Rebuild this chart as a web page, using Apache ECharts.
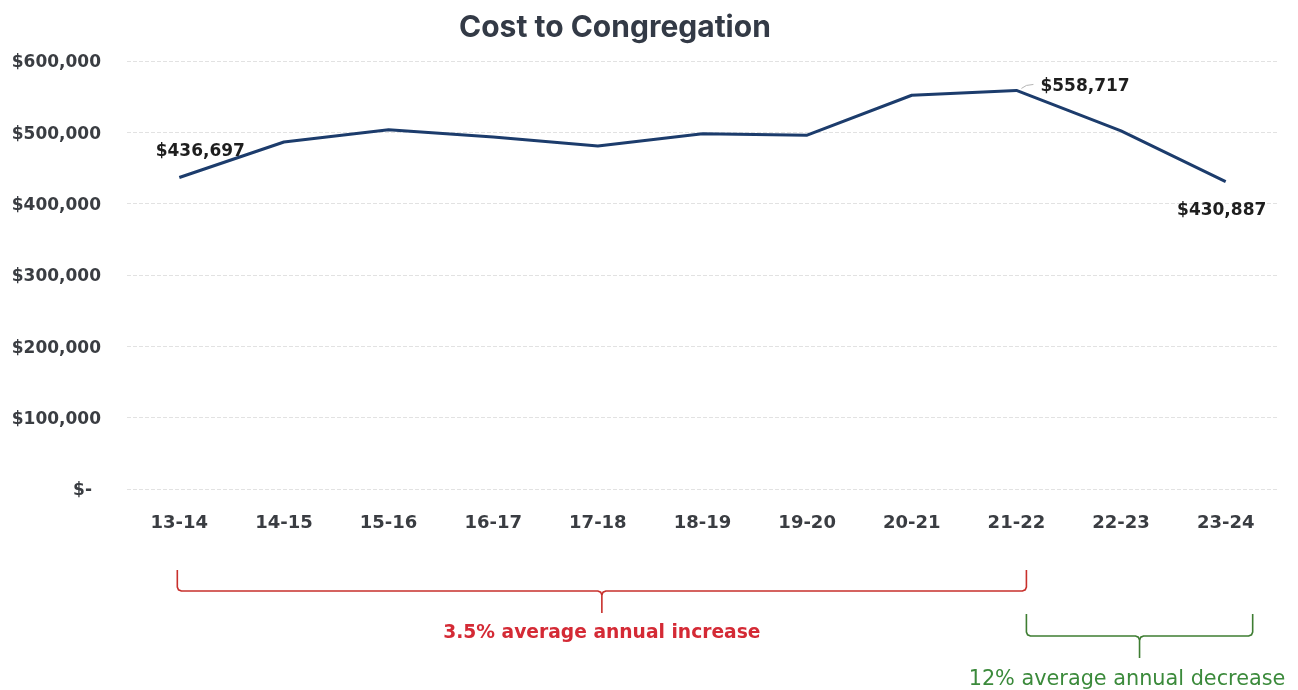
<!DOCTYPE html>
<html>
<head>
<meta charset="utf-8">
<script src="https://cdn.jsdelivr.net/npm/echarts@6/dist/echarts.min.js"></script>
<style>html,body{margin:0;padding:0;background:#fff;}#c{width:1298px;height:690px;}</style>
</head>
<body>
<div id="c"></div>
<script>
const categories = ['13-14','14-15','15-16','16-17','17-18','18-19','19-20','20-21','21-22','22-23','23-24'];
const costValues = [436697, 486500, 503500, 493500, 481000, 498000, 496000, 552000, 558717, 502000, 430887];
const labeledIndices = [0, 8, 10];
const yMin = 0, yMax = 600000, yStep = 100000;
const titleText = 'Cost to Congregation';
const increaseText = '3.5% average annual increase';
const decreaseText = '12% average annual decrease';

function money(v){ return '$' + Math.round(v).toString().replace(/\B(?=(\d{3})+(?!\d))/g, ','); }

const labelStyles = {
  0: { position: 'top', distance: 5, offset: [21, -12] },
  8: { position: 'right', distance: 24, offset: [0, -4] },
  10: { position: 'bottom', distance: 5, offset: [-4, 15] }
};

const LINE_COLOR = '#1c3c6c';
const seriesData = costValues.map((v, i) => {
  const item = { value: v };
  if (labeledIndices.includes(i)) {
    item.label = Object.assign({ show: true }, labelStyles[i]);
  }
  return item;
});

const AX = 'DejaVu Sans';
const chart = echarts.init(document.getElementById('c'));
chart.setOption({
  animation: false,
  backgroundColor: '#ffffff',
  title: {
    text: titleText, left: 454, top: 8,
    textStyle: { fontFamily: 'Inter', fontWeight: 'bold', fontSize: 30, color: '#333a46' }
  },
  grid: { left: 127, right: 20, top: 61, bottom: 201, containLabel: false },
  xAxis: {
    type: 'category', data: categories, boundaryGap: true,
    axisLine: { show: false }, axisTick: { show: false },
    axisLabel: { margin: 25, fontFamily: AX, fontWeight: 'bold', fontSize: 18, color: '#3a3d42' }
  },
  yAxis: {
    type: 'value', min: yMin, max: yMax, interval: yStep,
    axisLine: { show: false }, axisTick: { show: false },
    splitLine: { lineStyle: { color: '#e2e2e2', width: 1, type: [4, 2] } },
    axisLabel: {
      margin: 26, fontFamily: AX, fontWeight: 'bold', fontSize: 17, color: '#3a3d42', padding: [4, 0, 0, 0],
      formatter: v => v === 0 ? '{z|$-}' : money(v),
      rich: { z: { padding: [0, 9, 0, 0], fontFamily: AX, fontWeight: 'bold', fontSize: 17, color: '#3a3d42' } }
    }
  },
  series: [{
    type: 'line', data: seriesData, symbol: 'circle', symbolSize: 0.01, showSymbol: true, smooth: false,
    itemStyle: { color: LINE_COLOR },
    lineStyle: { color: LINE_COLOR, width: 3 },
    label: {
      show: false, formatter: p => money(p.value),
      fontFamily: AX, fontWeight: 'bold', fontSize: 17, color: '#1e1e1e'
    }
  }]
});

function bracePoints(x1, x2, top, h, bottom){
  const cx = (x1 + x2) / 2;
  return {
    left: [[x1, top], [x1, h - 4], [x1 + 1.2, h - 1.2], [x1 + 4, h], [cx - 4, h], [cx - 1.2, h + 1.2], [cx, h + 4], [cx, bottom]],
    right: [[cx, h + 4], [cx + 1.2, h + 1.2], [cx + 4, h], [x2 - 4, h], [x2 - 1.2, h - 1.2], [x2, h - 4], [x2, top]]
  };
}
function px(i){ return chart.convertToPixel({ xAxisIndex: 0 }, categories[i]); }

const rx1 = px(0) - 2, rx2 = px(8) + 10;
const gx1 = rx2, gx2 = px(10) + 27;
const rb = bracePoints(rx1, rx2, 570, 591, 613);
const gb = bracePoints(gx1, gx2, 614, 636, 658);
const peak = chart.convertToPixel({ gridIndex: 0 }, [categories[8], costValues[8]]);
const redStroke = { stroke: '#c8302c', lineWidth: 1.6, fill: null };
const greenStroke = { stroke: '#3e7d32', lineWidth: 1.6, fill: null };

chart.setOption({
  graphic: [
    { type: 'polyline', shape: { points: rb.left }, style: redStroke },
    { type: 'polyline', shape: { points: rb.right }, style: redStroke },
    { type: 'text', x: (rx1 + rx2) / 2, y: 633, style: { text: increaseText, textAlign: 'center', textVerticalAlign: 'middle', fontFamily: 'DejaVu Sans', fontWeight: 'bold', fontSize: 18.7, fill: '#d42a35' } },
    { type: 'polyline', shape: { points: gb.left }, style: greenStroke },
    { type: 'polyline', shape: { points: gb.right }, style: greenStroke },
    { type: 'text', x: 1127, y: 680, style: { text: decreaseText, textAlign: 'center', textVerticalAlign: 'middle', fontFamily: 'DejaVu Sans', fontWeight: 'normal', fontSize: 20.8, fill: '#3b8a3b' } },
    { type: 'polyline', shape: { points: [[peak[0] + 5, peak[1] - 2], [peak[0] + 10, peak[1] - 5], [peak[0] + 17, peak[1] - 6]] }, style: { stroke: '#b5b5b5', lineWidth: 1, fill: null } }
  ]
});
</script>
</body>
</html>
